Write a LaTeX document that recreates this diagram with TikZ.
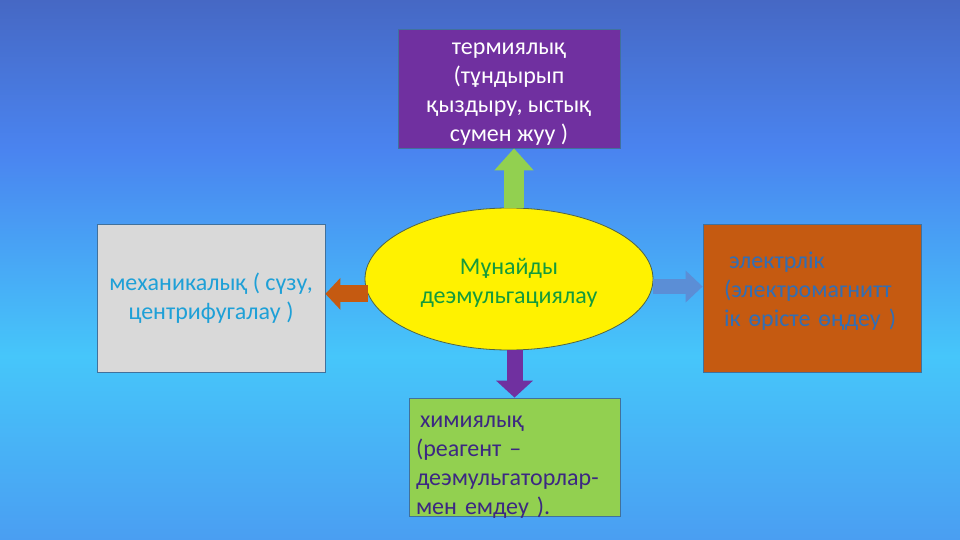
\documentclass[tikz,border=0pt]{standalone}
\usepackage{fontspec}
\setmainfont{Carlito}
\usepackage{tikz}
\usetikzlibrary{arrows.meta}
\usetikzlibrary{shapes.geometric}
\definecolor{bgtop}{RGB}{70,104,196}
\definecolor{bgup}{RGB}{74,132,240}
\definecolor{bgmid}{RGB}{70,198,250}
\definecolor{bgbot}{RGB}{74,158,242}
\definecolor{violet}{RGB}{112,48,160}
\definecolor{rust}{RGB}{197,90,17}
\definecolor{leaf}{RGB}{146,208,80}
\definecolor{steel}{RGB}{91,142,214}
\definecolor{boxline}{RGB}{65,113,156}
\pgfdeclareverticalshading{bgshade}{100bp}{color(0bp)=(bgbot); color(25bp)=(bgbot); color(42bp)=(bgmid); color(61bp)=(bgup); color(75bp)=(bgtop); color(100bp)=(bgtop)}
\begin{document}
\begin{tikzpicture}[x=1pt, y=-1pt, font=\fontsize{24}{29}\selectfont,
  box/.style={draw=boxline, line width=.8pt, inner sep=0pt},
  blockarrow/.style={line width=#1}]
 \shade[shading=bgshade] (0,0) rectangle (960,540);
 \useasboundingbox (0,0) rectangle (960,540);
\node [box, fill=violet, minimum width=222pt, minimum height=119pt] (term) at (509,88.5) {};
\node [text=white, align=center, inner sep=0pt] (termt) at ([yshift=-6pt]term.center) {термиялық\\(тұндырып\\қыздыру, ыстық\\сумен жуу )};
\node [box, fill={rgb,255:red,217;green,217;blue,217}, text={rgb,255:red,30;green,160;blue,215}, minimum width=228pt, minimum height=148pt, align=center] (mech) at (211,298) {механикалық ( сүзу,\\центрифугалау )};
\node [box, fill=rust, minimum width=218pt, minimum height=148pt] (elec) at (812,298) {};
\node [text={rgb,255:red,50;green,110;blue,180}, text width=176pt, align=left, inner sep=0pt] (elect) at ([yshift=7pt]elec.center) {\hspace*{5pt}электрлік\\(электромагнитт\\ік өрісте өңдеу )};
\node [box, fill=leaf, minimum width=211pt, minimum height=118pt] (chem) at (514.5,457) {};
\node [text={rgb,255:red,60;green,40;blue,130}, text width=197pt, align=left, inner sep=0pt] (chemt) at ([yshift=-10pt]chem.center) {\hspace*{4pt}химиялық\\(реагент –\\деэмульгаторлар-\\мен емдеу ).};
\node [ellipse, draw={rgb,255:red,80;green,100;blue,70}, line width=.8pt, fill=yellow, minimum width=288pt, minimum height=142pt, inner sep=0pt] (ell) at (509,279) {};
\node [align=center, inner sep=0pt, text={rgb,255:red,20;green,155;blue,60}] (ellt) at ([yshift=-4pt]ell.center) {Мұнайды\\деэмульгациялау};
\draw[blockarrow=20pt, leaf, -{Triangle[length=22pt, width=38pt]}] ([xshift=5pt]ell.north) -- ([xshift=5pt]term.south);
\draw[blockarrow=16pt, violet, -{Triangle[length=17pt, width=36pt]}] (ell.south -| chem.north) -- (chem.north);
\draw[blockarrow=17pt, rust, -{Triangle[length=15pt, width=31pt]}] (ell.186) -- (ell.186 -| mech.east);
\draw[blockarrow=15pt, steel, -{Triangle[length=17pt, width=31pt]}] (ell.-3) -- (ell.-3 -| elec.west);
\end{tikzpicture}
\end{document}
